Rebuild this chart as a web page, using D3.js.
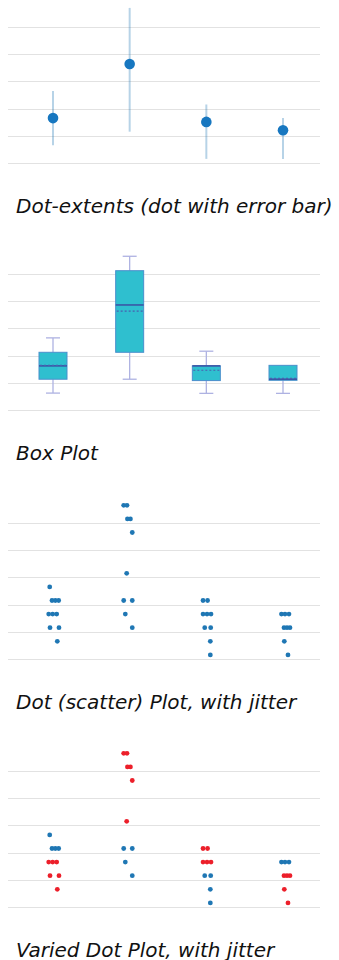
<!DOCTYPE html>
<html>
<head>
<meta charset="utf-8">
<script src="https://cdn.jsdelivr.net/npm/d3@7"></script>
<style>
  html, body { margin: 0; padding: 0; background: #fff; }
  svg { display: block; }
  .title { font-family: "DejaVu Sans", Verdana, sans-serif; font-style: italic; font-size: 20px; fill: #111; }
</style>
</head>
<body>
<svg id="chart" width="339" height="960"></svg>
<script>
// Four groups shared by every panel
const categories = ["G1", "G2", "G3", "G4"];
const gridTicks = [0, 1, 2, 3, 4, 5];

// Dot-extents: centre value with min/max range
const extentMid  = [1.67, 3.66, 1.53, 1.22];
const extentLow  = [0.67, 1.17, 0.17, 0.17];
const extentHigh = [2.67, 5.72, 2.17, 1.67];

// Box plot summaries
const boxLow    = [0.64, 1.15, 0.63, 0.63];
const boxQ1     = [1.15, 2.14, 1.10, 1.11];
const boxMedian = [1.64, 3.88, 1.64, 1.15];
const boxMean   = [1.66, 3.65, 1.48, 1.18];
const boxQ3     = [2.14, 5.14, 1.64, 1.66];
const boxHigh   = [2.67, 5.67, 2.18, 1.66];

// Raw observations per group, with jitter (fraction of group spacing) and subgroup
const dotValues = [
  [2.67, 2.17, 2.17, 2.17, 1.67, 1.67, 1.67, 1.17, 1.17, 0.67],
  [5.67, 5.67, 5.17, 5.17, 4.67, 3.17, 2.17, 2.17, 1.67, 1.17],
  [2.17, 2.17, 1.67, 1.67, 1.67, 1.17, 1.17, 0.67, 0.17],
  [1.67, 1.67, 1.67, 1.17, 1.17, 1.17, 0.67, 0.17]
];
const dotJitter = [
  [-0.043, -0.013, 0.030, 0.074, -0.056, -0.004, 0.048, -0.039, 0.078, 0.056],
  [-0.078, -0.035, -0.029, 0.010, 0.034, -0.039, -0.078, 0.034, -0.057, 0.034],
  [-0.043, 0.016, -0.043, 0.009, 0.061, -0.021, 0.057, 0.052, 0.052],
  [-0.020, 0.026, 0.078, 0.013, 0.052, 0.091, 0.017, 0.065]
];
const dotGroup = [
  ["b", "b", "b", "b", "r", "r", "r", "r", "r", "r"],
  ["r", "r", "r", "r", "r", "r", "b", "b", "b", "b"],
  ["r", "r", "r", "r", "r", "b", "b", "b", "b"],
  ["b", "b", "b", "r", "r", "r", "r", "r"]
];

const titles = [
  "Dot-extents (dot with error bar)",
  "Box Plot",
  "Dot (scatter) Plot, with jitter",
  "Varied Dot Plot, with jitter"
];

const svg = d3.select("#chart");
const panelTop = [0, 247, 496, 744];
const plotLeft = 8, plotRight = 320;

const x = d3.scalePoint().domain(categories).range([53, 283]);
const y = d3.scaleLinear().domain([0, 5]).range([163.5, 27.5]);
const step = x.step();
const crisp = v => Math.round(v - 0.5) + 0.5;

const groupColor = d3.scaleOrdinal().domain(["b", "r"]).range(["#1f77b4", "#ec1f2a"]);

function makePanel(i) {
  const g = svg.append("g").attr("transform", `translate(0,${panelTop[i]})`);
  g.append("g").selectAll("line").data(gridTicks).join("line")
    .attr("x1", plotLeft).attr("x2", plotRight)
    .attr("y1", d => crisp(y(d))).attr("y2", d => crisp(y(d)))
    .attr("stroke", "#e2e2e2").attr("stroke-width", 1);
  g.append("text").attr("class", "title").attr("x", 16).attr("y", 212.5).text(titles[i]);
  return g;
}

// Panel 1: dot with error bar
{
  const g = makePanel(0);
  const rows = categories.map((c, i) => ({ c, mid: extentMid[i], lo: extentLow[i], hi: extentHigh[i] }));
  g.append("g").selectAll("line").data(rows).join("line")
    .attr("x1", d => x(d.c)).attr("x2", d => x(d.c))
    .attr("y1", d => y(d.lo)).attr("y2", d => y(d.hi))
    .attr("stroke", "#1f77b4").attr("stroke-opacity", 0.32).attr("stroke-width", 2);
  g.append("g").selectAll("circle").data(rows).join("circle")
    .attr("cx", d => x(d.c)).attr("cy", d => y(d.mid)).attr("r", 5.3)
    .attr("fill", "#1777c0");
}

// Panel 2: box plot
{
  const g = makePanel(1);
  const boxW = 28, capW = 14;
  const rows = categories.map((c, i) => ({
    c, lo: boxLow[i], q1: boxQ1[i], med: boxMedian[i], mean: boxMean[i], q3: boxQ3[i], hi: boxHigh[i]
  }));
  const b = g.append("g").selectAll("g").data(rows).join("g");
  const whisker = "#aeb2e2";
  b.append("line").attr("x1", d => x(d.c)).attr("x2", d => x(d.c))
    .attr("y1", d => y(d.q3)).attr("y2", d => y(d.hi)).attr("stroke", whisker).attr("stroke-width", 1.3);
  b.append("line").attr("x1", d => x(d.c)).attr("x2", d => x(d.c))
    .attr("y1", d => y(d.q1)).attr("y2", d => y(d.lo)).attr("stroke", whisker).attr("stroke-width", 1.3);
  b.filter(d => d.hi > d.q3).append("line")
    .attr("x1", d => x(d.c) - capW / 2).attr("x2", d => x(d.c) + capW / 2)
    .attr("y1", d => y(d.hi)).attr("y2", d => y(d.hi)).attr("stroke", whisker).attr("stroke-width", 1.3);
  b.append("line")
    .attr("x1", d => x(d.c) - capW / 2).attr("x2", d => x(d.c) + capW / 2)
    .attr("y1", d => y(d.lo)).attr("y2", d => y(d.lo)).attr("stroke", whisker).attr("stroke-width", 1.3);
  b.append("rect")
    .attr("x", d => x(d.c) - boxW / 2).attr("width", boxW)
    .attr("y", d => y(d.q3)).attr("height", d => y(d.q1) - y(d.q3))
    .attr("fill", "#2fbfcf").attr("stroke", "#4b8fcc").attr("stroke-width", 1);
  b.append("line")
    .attr("x1", d => x(d.c) - boxW / 2).attr("x2", d => x(d.c) + boxW / 2)
    .attr("y1", d => y(d.med)).attr("y2", d => y(d.med))
    .attr("stroke", "#3a56a6").attr("stroke-width", 1.6);
  b.append("line")
    .attr("x1", d => x(d.c) - boxW / 2 + 1).attr("x2", d => x(d.c) + boxW / 2 - 1)
    .attr("y1", d => y(d.mean)).attr("y2", d => y(d.mean))
    .attr("stroke", "#4a5fb0").attr("stroke-width", 1.2).attr("stroke-dasharray", "2,2");
}

// Panels 3 and 4: jittered dot plots
const points = [];
categories.forEach((c, i) => {
  dotValues[i].forEach((v, j) => points.push({ c, v, jit: dotJitter[i][j], grp: dotGroup[i][j] }));
});

{
  const g = makePanel(2);
  g.append("g").selectAll("circle").data(points).join("circle")
    .attr("cx", d => x(d.c) + d.jit * step).attr("cy", d => y(d.v)).attr("r", 2.4)
    .attr("fill", "#1f77b4");
}
{
  const g = makePanel(3);
  g.append("g").selectAll("circle").data(points).join("circle")
    .attr("cx", d => x(d.c) + d.jit * step).attr("cy", d => y(d.v)).attr("r", 2.4)
    .attr("fill", d => groupColor(d.grp));
}
</script>
</body>
</html>
